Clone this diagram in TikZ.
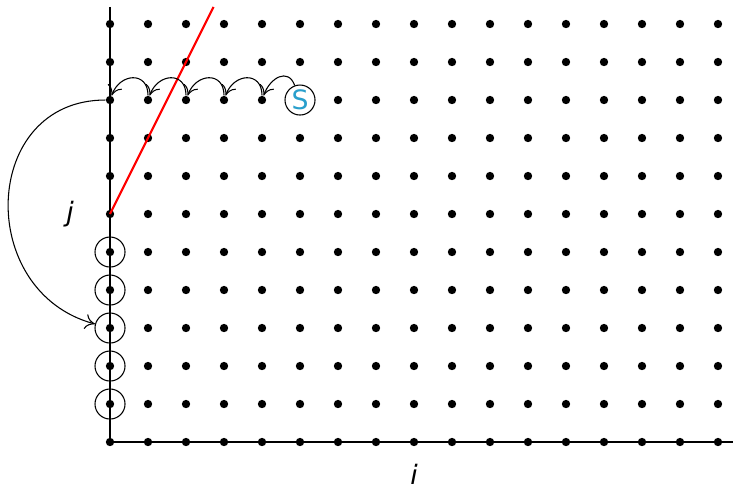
\documentclass[tikz,border=0pt]{standalone}
\usepackage{fontspec}
\setmainfont{DejaVu Sans}
\usepackage{xcolor}
\usepackage{tikz}
\usetikzlibrary{arrows.meta, positioning, calc}

\definecolor{startblue}{RGB}{41,159,204}

\begin{document}
\begin{tikzpicture}[
  x=0.5cm, y=0.5cm,
  dot/.style={circle, fill=black, inner sep=0pt, minimum size=1.1mm},
  ring/.style={circle, draw, inner sep=0pt, minimum size=3.95mm},
  hop/.style={->, >={To[length=1.3mm, width=2mm]}},
  cut/.style={red, line width=0.8pt}
]
\useasboundingbox (-2.895,-1.237) rectangle (16.395,11.632);

% axes
\coordinate (O) at (0,0);
\coordinate (top) at (0,11.45);
\coordinate (right) at (16.4,0);
\draw (top) -- (O) -- (right);

% lattice points
\foreach \i in {0,...,16}
  \foreach \j in {0,...,11}
    \node[dot] (d-\i-\j) at (\i,\j) {};

% the cut
\coordinate (cutend) at (2.725,11.45);
\draw[cut] (d-0-6.center) -- (cutend);

% start node and hops
\node[ring, text=startblue, fill=white] (S) at (5,9) {S};
\draw[hop] (S) to[out=110, in=70, looseness=1.5] (d-4-9);
\foreach \a/\b in {4/3, 3/2, 2/1, 1/0}
  \draw[hop] (d-\a-9) to[out=90, in=70, looseness=1.7] (d-\b-9);

% marked points
\foreach \j in {1,...,5}
  \node[ring] (c-\j) at (0,\j) {};

% long jump
\draw[hop] (d-0-9.west) to[out=180, in=165, looseness=1.42] (c-3);

\node (jlab) at (-1.05,6) {\textit{j}};
\node[inner sep=1pt] (ilab) at (8,-0.86) {\textit{i}};
\end{tikzpicture}
\end{document}
